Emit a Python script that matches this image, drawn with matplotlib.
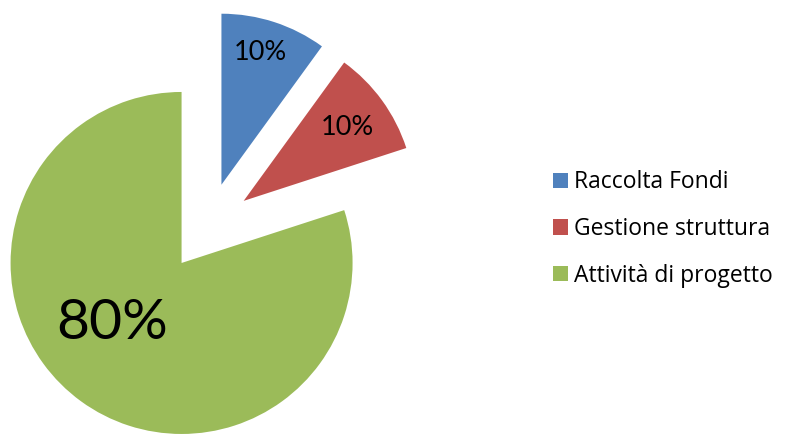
import matplotlib
matplotlib.use("Agg")
import matplotlib.pyplot as plt

plt.rcParams['font.family'] = ['Lato', 'DejaVu Sans']

categories = ["Raccolta Fondi", "Gestione struttura", "Attività di progetto"]
values = [10, 10, 80]
colors = ["#4F81BD", "#C0504D", "#9BBB59"]
explode = [0.26, 0.26, 0.26]

# label centres in data units (pie radius = 1)
label_pos = [(0.306, 1.018), (0.820, 0.579), (-0.560, -0.567)]
label_size = [19.5, 19.5, 41]

fig = plt.figure(figsize=(7.86, 4.34), dpi=100)
ax = fig.add_axes([0, 0, 1, 1])

wedges, texts, autotexts = ax.pie(
    values, colors=colors, explode=explode, startangle=90, counterclock=False,
    autopct='%1.0f%%', radius=1.0, wedgeprops=dict(linewidth=0),
    textprops=dict(color='black'))

for t, pos, fs in zip(autotexts, label_pos, label_size):
    t.set_position(pos)
    t.set_fontsize(fs)
    t.set_ha('center')
    t.set_va('center')

# pixel-matched view: 171 px per unit, pie centre at (207.7, 227) px
scale = 171.0
cx, cy = 207.7, 227.0
ax.set_xlim(-cx / scale, (786 - cx) / scale)
ax.set_ylim(-(434 - cy) / scale, cy / scale)
ax.set_aspect('equal')
ax.axis('off')

leg = ax.legend(wedges, categories, loc='center left', bbox_to_anchor=(0.7036, 0.472),
                frameon=False, prop=dict(family='Open Sans', size=16.5),
                handlelength=0.65, handleheight=0.65, borderpad=0,
                handletextpad=0.27, labelspacing=0.99, borderaxespad=0)

fig.savefig("out.png", dpi=100)
